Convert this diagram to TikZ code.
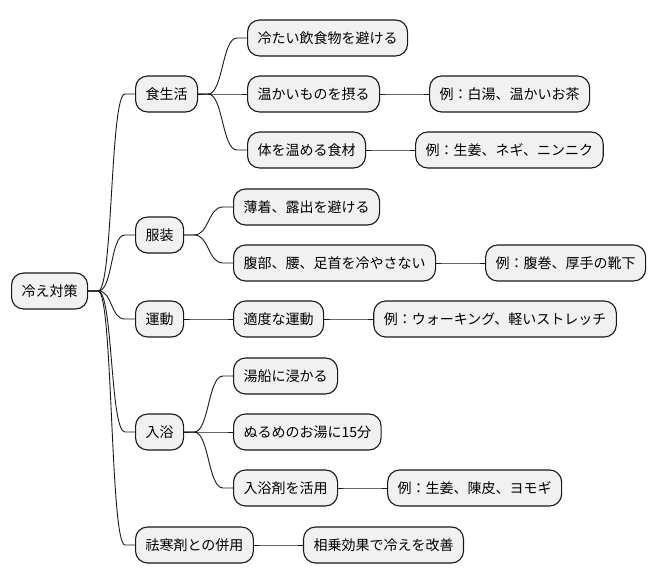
\documentclass[tikz,border=0pt]{standalone}
\usepackage{fontspec}
\newfontfamily\jpfont{Noto Sans CJK JP}
\definecolor{mmfill}{HTML}{F1F1F1}
\definecolor{mmline}{HTML}{181818}
\usetikzlibrary{positioning}

\begin{document}
\begin{tikzpicture}[
  x=1pt, y=-1pt,
  box/.style={rounded corners=12pt, draw=mmline, fill=mmfill, line width=1.1pt,
    font=\jpfont\fontsize{14}{16}\selectfont, minimum height=36pt,
    inner xsep=10pt, inner ysep=0pt, anchor=west},
  branch/.style={draw=mmline, line width=0.9pt,
    to path={-- ++(10,0) .. controls +(15,0) and +(-15,0) .. ([xshift=-10pt]\tikztotarget) -- (\tikztotarget)}}
]
  \useasboundingbox (0,0) rectangle (656,583);

  % root
  \node[box] (root) at (11,291) {冷え対策};

  % first level
  \node[box] (food) at (135,94) {食生活};
  \node[box] (cloth) at (135,235) {服装};
  \node[box] (exer) at (135,319) {運動};
  \node[box] (bath) at (135,432) {入浴};
  \node[box] (herb) at (135,545) {祛寒剤との併用};

  % food
  \node[box] (cold) at (247,38) {冷たい飲食物を避ける};
  \node[box] (warm) at (247,94) {温かいものを摂る};
  \node[box] (ingr) at (247,150) {体を温める食材};
  \node[box, right=49pt of warm] (warmex) {例：白湯、温かいお茶};
  \node[box, right=49pt of ingr] (ingrex) {例：生姜、ネギ、ニンニク};

  % clothing
  \node[box] (thin) at (233,207) {薄着、露出を避ける};
  \node[box] (belly) at (233,263) {腹部、腰、足首を冷やさない};
  \node[box, right=49pt of belly] (bellyex) {例：腹巻、厚手の靴下};

  % exercise
  \node[box, right=49pt of exer] (moderate) {適度な運動};
  \node[box, right=49pt of moderate] (exerex) {例：ウォーキング、軽いストレッチ};

  % bathing
  \node[box] (soak) at (233,376) {湯船に浸かる};
  \node[box] (luke) at (233,432) {ぬるめのお湯に15分};
  \node[box] (salts) at (233,488) {入浴剤を活用};
  \node[box, right=49pt of salts] (saltsex) {例：生姜、陳皮、ヨモギ};

  % herbal medicine
  \node[box, right=49pt of herb] (synergy) {相乗効果で冷えを改善};

  % branches
  \draw[branch] (root.east) to (food.west);
  \draw[branch] (root.east) to (cloth.west);
  \draw[branch] (root.east) to (exer.west);
  \draw[branch] (root.east) to (bath.west);
  \draw[branch] (root.east) to (herb.west);
  \draw[branch] (food.east) to (cold.west);
  \draw[branch] (food.east) to (warm.west);
  \draw[branch] (food.east) to (ingr.west);
  \draw[branch] (warm.east) to (warmex.west);
  \draw[branch] (ingr.east) to (ingrex.west);
  \draw[branch] (cloth.east) to (thin.west);
  \draw[branch] (cloth.east) to (belly.west);
  \draw[branch] (belly.east) to (bellyex.west);
  \draw[branch] (exer.east) to (moderate.west);
  \draw[branch] (moderate.east) to (exerex.west);
  \draw[branch] (bath.east) to (soak.west);
  \draw[branch] (bath.east) to (luke.west);
  \draw[branch] (bath.east) to (salts.west);
  \draw[branch] (salts.east) to (saltsex.west);
  \draw[branch] (herb.east) to (synergy.west);
\end{tikzpicture}
\end{document}
